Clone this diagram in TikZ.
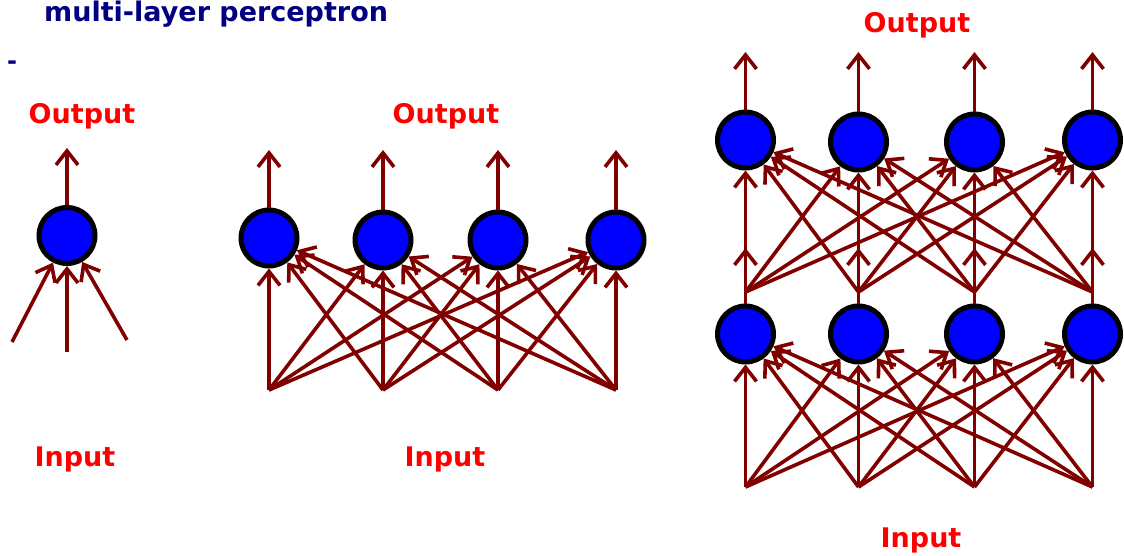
\documentclass[tikz,border=0pt]{standalone}
\usepackage{fontspec}
\setmainfont{DejaVu Sans}
\usetikzlibrary{arrows.meta}
\definecolor{dred}{RGB}{128,0,0}
\definecolor{navyc}{RGB}{0,0,128}
\begin{document}
\begin{tikzpicture}[x=1pt,y=-1pt,
  neuron/.style={circle,draw=black,line width=5pt,fill=blue,minimum size=56pt,inner sep=0pt},
  conn/.style={draw=dred,line width=3.6pt,-{Straight Barb[length=14pt,width=22pt]}},
  lbl/.style={text=red,font=\fontsize{27}{32}\selectfont\bfseries,anchor=base,inner sep=0pt},
  ttl/.style={text=navyc,font=\fontsize{27}{32}\selectfont\bfseries,anchor=base west,inner sep=0pt}]
\useasboundingbox (0,0) rectangle (1124,555);
% title
\node[ttl] (title) at (44,21) {multi-layer perceptron};
\node[ttl,font=\fontsize{24}{30}\selectfont\bfseries] (dash) at (7,69) {-};
% labels
\node[lbl] (o1) at (82,123) {Output};
\node[lbl] (o2) at (446,123) {Output};
\node[lbl] (o3) at (917,32) {Output};
\node[lbl] (i1) at (75,466) {Input};
\node[lbl] (i2) at (445,466) {Input};
\node[lbl] (i3) at (921,547) {Input};
% single perceptron
\node[neuron] (s) at (67,235.5) {};
\coordinate (si1) at (12,342);
\coordinate (si2) at (67,352);
\coordinate (si3) at (127,340);
\coordinate (so) at (67,148);
\draw[conn] (s) -- (so);
\foreach \k in {1,2,3} \draw[conn] (si\k) -- (s);
% single layer
\foreach \k/\x/\y in {1/269/238,2/383/240,3/498/240,4/616/240}{
  \node[neuron] (m\k) at (\x,\y) {};
  \coordinate (mi\k) at (\x,390);
  \coordinate (mo\k) at (\x,150);
}
\foreach \k in {1,...,4} \draw[conn] (m\k) -- (mo\k);
\foreach \a in {1,...,4}
  \foreach \b in {1,...,4}
    \draw[conn] (mi\a) -- (m\b);
% multi-layer
\foreach \k/\x/\y in {1/745.5/140,2/858.5/142,3/974.5/142,4/1092.5/140}{
  \node[neuron] (u\k) at (\x,\y) {};
  \node[neuron] (l\k) at (\x,334) {};
  \coordinate (uo\k) at (\x,52);
  \coordinate (lo\k) at (\x,248);
  \coordinate (f\k) at (\x,292);
  \coordinate (b\k) at (\x,487);
}
\foreach \k in {1,...,4} {
  \draw[conn] (u\k) -- (uo\k);
  \draw[conn] (l\k) -- (lo\k);
}
\foreach \a in {1,...,4}
  \foreach \b in {1,...,4} {
    \draw[conn] (f\a) -- (u\b);
    \draw[conn] (b\a) -- (l\b);
  }
\end{tikzpicture}
\end{document}
